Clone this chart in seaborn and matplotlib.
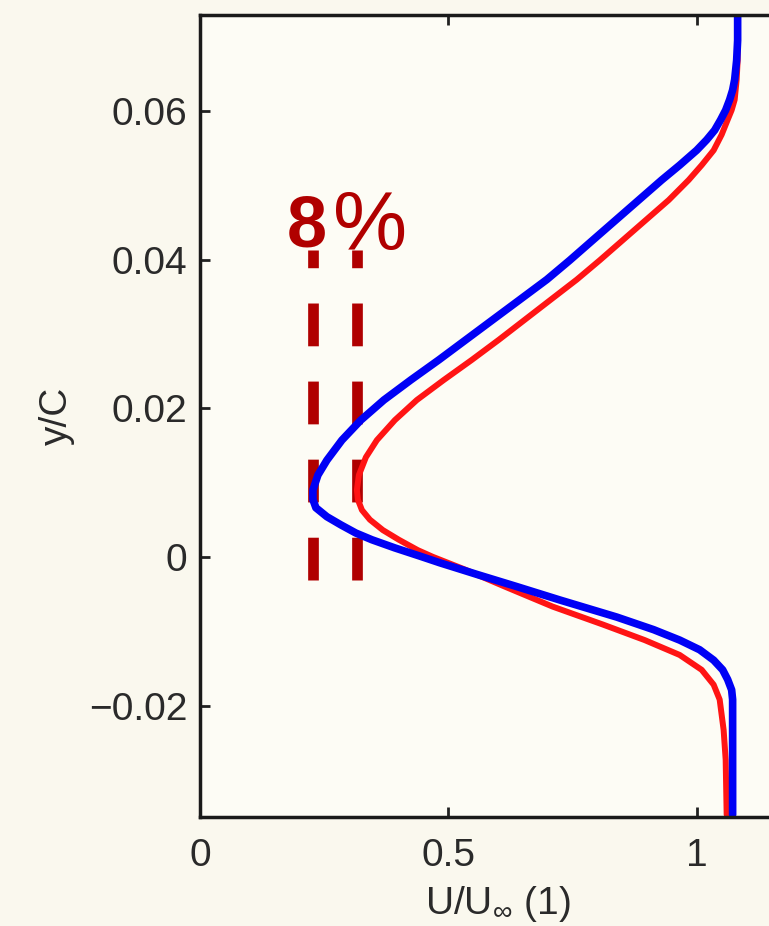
import numpy as np
import pandas as pd
import seaborn as sns
import matplotlib.pyplot as plt

# velocity profiles (U/U_inf vs y/C)
blue_y = [0.0729, 0.0695, 0.0668, 0.0642, 0.0628, 0.0615, 0.0601, 0.0588, 0.0574, 0.0561,
          0.0547, 0.0527, 0.0507, 0.0480, 0.0453, 0.0426, 0.0399, 0.0373, 0.0346, 0.0319,
          0.0292, 0.0265, 0.0238, 0.0211, 0.0184, 0.0157, 0.0130, 0.0110, 0.0090, 0.0077,
          0.0066, 0.0054, 0.0043, 0.0032, 0.0023, 0.0012, 0.0001, -0.0008, -0.0024, -0.0040,
          -0.0058, -0.0081, -0.0098, -0.0112, -0.0125, -0.0139, -0.0152, -0.0165, -0.0179,
          -0.0192, -0.0347]
blue_u = [1.0825, 1.0825, 1.0805, 1.0765, 1.0724, 1.0664, 1.0584, 1.0483, 1.0362, 1.0201,
          1.0000, 0.9658, 0.9296, 0.8833, 0.8370, 0.7907, 0.7445, 0.6982, 0.6439, 0.5895,
          0.5352, 0.4809, 0.4245, 0.3702, 0.3239, 0.2857, 0.2555, 0.2374, 0.2274, 0.2274,
          0.2334, 0.2555, 0.2837, 0.3139, 0.3461, 0.3924, 0.4427, 0.4829, 0.5594, 0.6378,
          0.7243, 0.8390, 0.9135, 0.9658, 1.0060, 1.0342, 1.0523, 1.0624, 1.0704,
          1.0724, 1.0724]

red_y = [0.0729, 0.0695, 0.0668, 0.0642, 0.0615, 0.0601, 0.0588, 0.0568, 0.0547, 0.0527,
         0.0507, 0.0480, 0.0453, 0.0426, 0.0399, 0.0373, 0.0346, 0.0319, 0.0292, 0.0265,
         0.0238, 0.0211, 0.0184, 0.0157, 0.0134, 0.0110, 0.0090, 0.0077, 0.0063, 0.0050,
         0.0036, 0.0023, 0.0009, 0.0000, -0.0017, -0.0040, -0.0067, -0.0091, -0.0112, -0.0132,
         -0.0152, -0.0172, -0.0192, -0.0233, -0.0273, -0.0347]
red_u = [1.0825, 1.0825, 1.0825, 1.0805, 1.0765, 1.0704, 1.0624, 1.0503, 1.0342, 1.0101,
         0.9839, 0.9437, 0.8974, 0.8511, 0.8048, 0.7586, 0.7062, 0.6539, 0.6016, 0.5473,
         0.4909, 0.4366, 0.3924, 0.3561, 0.3340, 0.3199, 0.3159, 0.3179, 0.3260, 0.3421,
         0.3682, 0.4004, 0.4386, 0.4688, 0.5332, 0.6137, 0.7103, 0.8109, 0.8954, 0.9658,
         1.0101, 1.0342, 1.0463, 1.0543, 1.0584, 1.0604]

# minimum velocity markers
min_u = [0.2274, 0.3159]
min_span = [-0.0031, 0.0413]

xticks = [0, 0.5, 1]
xticklabels = ['0', '0.5', '1']
yticks = [-0.02, 0, 0.02, 0.04, 0.06]
yticklabels = ['\u22120.02', '0', '0.02', '0.04', '0.06']

sns.set_style('ticks')
plt.rcParams['font.family'] = ['Liberation Sans', 'DejaVu Sans']
plt.rcParams['mathtext.fontset'] = 'custom'
plt.rcParams['mathtext.rm'] = 'Liberation Sans'

fig = plt.figure(figsize=(7.69, 9.26), dpi=100, facecolor='#faf8ee')
ax = fig.add_axes([200 / 769, 1 - 817 / 926, 596 / 769, 802 / 926])
ax.set_facecolor('#fdfcf5')

blue = pd.DataFrame({'u': blue_u, 'y': blue_y})
red = pd.DataFrame({'u': red_u, 'y': red_y})

for xm in min_u:
    ax.plot([xm, xm], min_span, color='#b00000', lw=7.7, ls=(0, (4.0, 3.3)),
            solid_capstyle='butt')

sns.lineplot(data=red, x='u', y='y', sort=False, estimator=None, color='#ff1414',
             lw=4.3, solid_joinstyle='round', ax=ax)
sns.lineplot(data=blue, x='u', y='y', sort=False, estimator=None, color='#0000f5',
             lw=5.5, solid_joinstyle='round', ax=ax)

ax.text(0.175, 0.0417, '8', color='#b00000', fontsize=52, fontweight='bold',
        ha='left', va='baseline')
ax.text(0.268, 0.0413, '%', color='#b00000', fontsize=60,
        ha='left', va='baseline')

ax.set_xlim(0, 1.2)
ax.set_ylim(-0.0350, 0.0729)
ax.set_xticks(xticks, xticklabels)
ax.set_yticks(yticks, yticklabels)
ax.tick_params(direction='in', top=True, right=True, length=7, width=2,
               labelsize=28, labelcolor='#2a2a2a', color='#222222')
ax.tick_params(axis='x', pad=15)
ax.tick_params(axis='y', pad=9)
for side in ax.spines:
    ax.spines[side].set_visible(True)
    ax.spines[side].set_linewidth(2.5)
    ax.spines[side].set_color('#1a1a1a')

ax.set_xlabel(r'U/U$_{\infty}$ (1)', fontsize=28, color='#2a2a2a', labelpad=7)
ax.set_ylabel('y/C', fontsize=28, color='#2a2a2a', labelpad=10)

fig.savefig('out.png', dpi=100, facecolor=fig.get_facecolor())
